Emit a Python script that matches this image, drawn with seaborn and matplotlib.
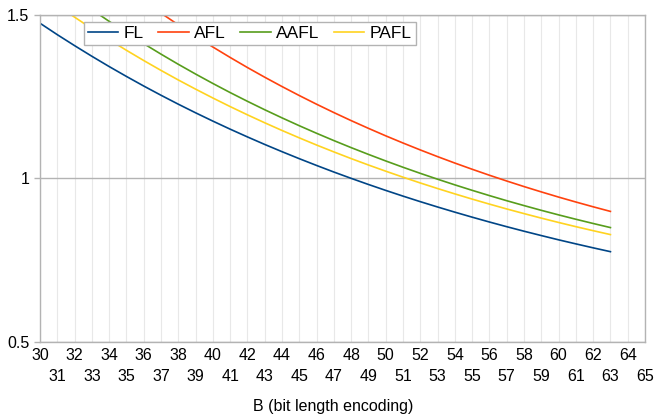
import matplotlib
matplotlib.use("Agg")
import matplotlib.pyplot as plt
import seaborn as sns
import pandas as pd

# ---- data -------------------------------------------------------------
B = list(range(30, 64))
FL = [1.4740, 1.4390, 1.4055, 1.3730, 1.3416, 1.3114, 1.2821, 1.2539, 1.2266,
      1.2003, 1.1749, 1.1503, 1.1266, 1.1036, 1.0815, 1.0601, 1.0394, 1.0193,
      1.0000, 0.9813, 0.9632, 0.9457, 0.9288, 0.9125, 0.8967, 0.8814, 0.8666,
      0.8523, 0.8385, 0.8252, 0.8122, 0.7998, 0.7877, 0.7760]
AFL = [1.7983, 1.7513, 1.7061, 1.6627, 1.6209, 1.5807, 1.5420, 1.5048, 1.4690,
       1.4345, 1.4013, 1.3694, 1.3386, 1.3090, 1.2805, 1.2530, 1.2265, 1.2010,
       1.1764, 1.1528, 1.1299, 1.1080, 1.0868, 1.0664, 1.0467, 1.0278, 1.0095,
       0.9919, 0.9749, 0.9586, 0.9428, 0.9277, 0.9131, 0.8990]
AAFL = [1.6321, 1.5918, 1.5530, 1.5157, 1.4797, 1.4450, 1.4116, 1.3795, 1.3485,
        1.3187, 1.2899, 1.2621, 1.2354, 1.2096, 1.1848, 1.1608, 1.1377, 1.1154,
        1.0939, 1.0732, 1.0532, 1.0339, 1.0153, 0.9974, 0.9801, 0.9634, 0.9473,
        0.9317, 0.9168, 0.9023, 0.8884, 0.8750, 0.8621, 0.8496]
PAFL = [1.5665, 1.5288, 1.4925, 1.4575, 1.4238, 1.3913, 1.3600, 1.3298, 1.3006,
        1.2726, 1.2455, 1.2193, 1.1941, 1.1698, 1.1463, 1.1237, 1.1018, 1.0808,
        1.0604, 1.0408, 1.0219, 1.0036, 0.9859, 0.9689, 0.9525, 0.9366, 0.9213,
        0.9065, 0.8923, 0.8785, 0.8652, 0.8524, 0.8401, 0.8282]
series_names = ["FL", "AFL", "AAFL", "PAFL"]
colors = ["#004586", "#ff420e", "#579d1c", "#ffd320"]
x_even = list(range(30, 65, 2))
x_odd = list(range(31, 66, 2))
y_ticks = [0.5, 1, 1.5]
y_labels = ["0.5", "1", "1.5"]
x_title = "B (bit length encoding)"

# ---- figure -----------------------------------------------------------
plt.rcParams["font.family"] = ["Liberation Sans", "DejaVu Sans"]

df = pd.DataFrame({
    "B": B * 4,
    "value": FL + AFL + AAFL + PAFL,
    "series": sum([[n] * len(B) for n in series_names], []),
})

W, H = 657, 417
fig = plt.figure(figsize=(W / 100, H / 100), dpi=100)
ax = fig.add_axes([40 / W, 1 - 342 / H, 605 / W, (342 - 14.7) / H])

sns.lineplot(data=df, x="B", y="value", hue="series", hue_order=series_names,
             palette=dict(zip(series_names, colors)), linewidth=1.2, ax=ax)

ax.set_xlim(30, 65)
ax.set_ylim(0.5, 1.5)
ax.set_xlabel("")
ax.set_ylabel("")

ax.set_xticks(x_even)
ax.set_xticklabels([str(v) for v in x_even])
ax.set_xticks(x_odd, minor=True)
ax.set_xticklabels([str(v) for v in x_odd], minor=True)
ax.tick_params(axis="x", which="major", length=0, pad=4.5, labelsize=11.5)
ax.tick_params(axis="x", which="minor", length=0, pad=19.5, labelsize=11.5)

ax.set_yticks(y_ticks)
ax.set_yticklabels(y_labels)
ax.tick_params(axis="y", length=4.3, width=1, color="#b3b3b3", pad=3.5,
               labelsize=11.5)

ax.grid(axis="x", which="both", color="#e8e8e8", linewidth=0.8)
ax.grid(axis="y", which="major", color="#b3b3b3", linewidth=1)
ax.set_axisbelow(True)
for s in ax.spines.values():
    s.set_color("#b3b3b3")
    s.set_linewidth(1)

leg = ax.legend(handles=ax.get_legend_handles_labels()[0],
                labels=series_names, ncol=4, loc="upper left",
                bbox_to_anchor=(84 / W, 1 - 22 / H),
                bbox_transform=fig.transFigure, borderaxespad=0,
                fontsize=12.5, handlelength=1.75, handletextpad=0.3,
                columnspacing=0.85, borderpad=0.22, fancybox=False,
                framealpha=1, edgecolor="#b3b3b3")
leg.get_frame().set_linewidth(1)

fig.text(333 / W, 1 - 407 / H, x_title, ha="center", va="center",
         fontsize=11.5)

fig.savefig("out.png", dpi=100, facecolor="white")
